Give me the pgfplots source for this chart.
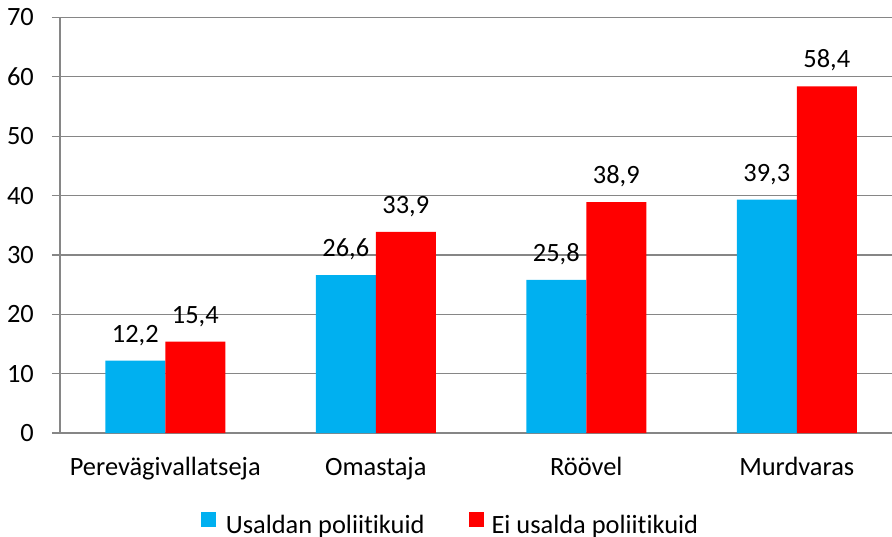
\documentclass[border=0pt]{standalone}
\usepackage{pgfplots}
\pgfplotsset{compat=1.18}
\usepackage{fontspec}
\setmainfont{Carlito}[Ligatures={NoCommon,NoRequired,NoContextual}]
\definecolor{cblue}{HTML}{00B0F0}
\definecolor{cred}{HTML}{FF0000}
\definecolor{cgrid}{HTML}{868686}
\pgfkeys{/pgf/number format/assume math mode=true}
\begin{document}
\begin{tikzpicture}
\path[use as bounding box] (-60bp,-104bp) rectangle (832bp,433bp);
\begin{axis}[
  at={(0,0)}, anchor=south west,
  scale only axis,
  width=832bp, height=415.5bp,
  font=\fontsize{26.5}{31}\selectfont,
  ybar=0pt, bar width=60bp,
  xmin=-0.5, xmax=3.4525,
  ymin=0, ymax=70,
  ytick={0,10,...,70},
  xtick={0,1,2,3},
  xticklabels={Perevägivallatseja,Omastaja,Röövel,Murdvaras},
  major x tick style={draw=none},
  extra x ticks={-0.5,0.5,1.5,2.5},
  extra x tick labels={},
  extra x tick style={major tick length=8bp, tick style={draw=cgrid, line width=1.2bp}, grid=none},
  tick align=outside,
  major tick length=8bp,
  ytick style={draw=cgrid, line width=1.2bp},
  axis x line*=bottom, axis y line*=left,
  axis line style={draw=cgrid, line width=1.2bp, -},
  ymajorgrids,
  major grid style={draw=cgrid, line width=1.2bp},
  yticklabel style={anchor=east, inner sep=0pt, xshift=-18bp, font=\fontsize{26.5}{31}\selectfont},
  xticklabel style={anchor=base, inner sep=0pt, yshift=-34bp, font=\fontsize{26.5}{31}\selectfont},
  point meta=y,
  nodes near coords={\pgfmathprintnumber[fixed,fixed zerofill,precision=1,use comma]{\pgfplotspointmeta}},
  nodes near coords style={anchor=base, inner sep=0pt, yshift=18.5bp, font=\fontsize{26.5}{31}\selectfont, text=black},
  legend columns=2,
  legend style={draw=none, fill=none, at={(0.4694,-0.2202)}, anchor=center,
    font=\fontsize{26.5}{31}\selectfont,
    /tikz/every even column/.append style={column sep=42bp},
    /tikz/column 1/.style={column sep=8bp},
    /tikz/column 3/.style={column sep=6bp},
    inner sep=0pt},
  legend cell align=left,
  legend image code/.code={\fill[#1,draw=none] (0bp,-1bp) rectangle (15bp,14bp);},
]
\addplot[fill=cblue, draw=none] coordinates {(0,12.2) (1,26.6) (2,25.8) (3,39.3)};
\addplot[fill=cred, draw=none] coordinates {(0,15.4) (1,33.9) (2,38.9) (3,58.4)};
\legend{Usaldan poliitikuid,Ei usalda poliitikuid}
\end{axis}
\end{tikzpicture}
\end{document}
